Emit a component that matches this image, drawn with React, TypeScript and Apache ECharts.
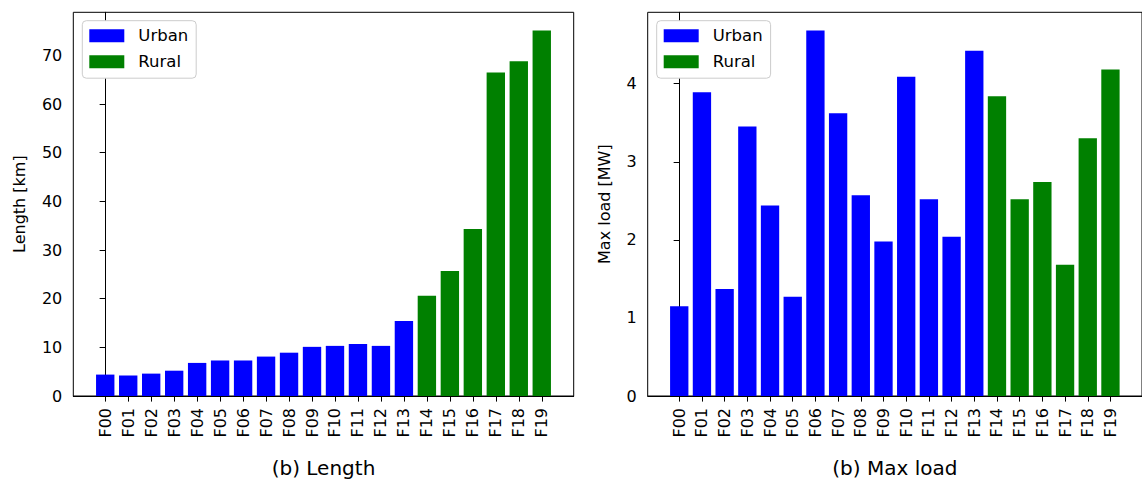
import { useEffect, useRef } from 'react';
import * as echarts from 'echarts';

const feeders = ['F00', 'F01', 'F02', 'F03', 'F04', 'F05', 'F06', 'F07', 'F08', 'F09',
  'F10', 'F11', 'F12', 'F13', 'F14', 'F15', 'F16', 'F17', 'F18', 'F19'];
const feederType = ['Urban', 'Urban', 'Urban', 'Urban', 'Urban', 'Urban', 'Urban', 'Urban', 'Urban', 'Urban',
  'Urban', 'Urban', 'Urban', 'Urban', 'Rural', 'Rural', 'Rural', 'Rural', 'Rural', 'Rural'];
const lengthKm = [4.4, 4.2, 4.6, 5.2, 6.8, 7.3, 7.3, 8.1, 8.9, 10.1,
  10.3, 10.7, 10.3, 15.4, 20.6, 25.7, 34.3, 66.5, 68.8, 75.1];
const maxLoadMW = [1.15, 3.89, 1.37, 3.45, 2.44, 1.27, 4.68, 3.62, 2.57, 1.98,
  4.09, 2.52, 2.04, 4.42, 3.84, 2.52, 2.74, 1.68, 3.30, 4.18];
const lengthTicks = [0, 10, 20, 30, 40, 50, 60, 70];
const loadTicks = [0, 1, 2, 3, 4];
const groups = ['Urban', 'Rural'];
const groupColors = ['#0000ff', '#008000'];

const FONT = 'DejaVu Sans';

export default function App() {
  const ref = useRef<HTMLDivElement>(null);
  useEffect(() => {
    document.body.style.margin = '0';
    document.body.style.overflow = 'hidden';
    const chart = echarts.init(ref.current!, null, { renderer: 'svg' });

    const n = feeders.length;
    const xMin = -0.4 - 0.05 * (n - 1 + 0.8);
    const xMax = n - 1 + 0.4 + 0.05 * (n - 1 + 0.8);

    const panels = [
      { grid: { left: 73.3, top: 12.3, width: 500.4, height: 384 }, values: lengthKm, ticks: lengthTicks,
        yName: 'Length [km]', xName: '(b) Length', yNameGap: 46, legendLeft: 82.3 },
      { grid: { left: 647.7, top: 12.3, width: 498.8, height: 384 }, values: maxLoadMW, ticks: loadTicks,
        yName: 'Max load [MW]', xName: '(b) Max load', yNameGap: 35, legendLeft: 656.7 },
    ];

    const grid: any[] = [];
    const xAxis: any[] = [];
    const yAxis: any[] = [];
    const series: any[] = [];
    const legend: any[] = [];
    const xIdx = feeders.map((_, i) => i);

    panels.forEach((p, pi) => {
      grid.push({ ...p.grid, show: true, borderColor: '#000', borderWidth: 1, backgroundColor: 'transparent' });
      xAxis.push({
        type: 'value', gridIndex: pi, min: xMin, max: xMax,
        axisLine: { show: true, onZero: false, lineStyle: { color: '#000', width: 1 } },
        axisTick: { show: true, length: 5.6, customValues: xIdx, lineStyle: { color: '#000', width: 1 } },
        axisLabel: {
          customValues: xIdx, rotate: 90, margin: 12, fontSize: 16, color: '#000', fontFamily: FONT,
          formatter: (v: number) => feeders[Math.round(v)] ?? '',
        },
        splitLine: { show: false },
        name: p.xName, nameLocation: 'middle', nameGap: 62,
        nameTextStyle: { fontSize: 20, color: '#000', fontFamily: FONT },
      });
      const vmax = Math.max(...p.values) * 1.05;
      yAxis.push({
        type: 'value', gridIndex: pi, min: 0, max: vmax,
        axisLine: { show: true, lineStyle: { color: '#000', width: 1 } },
        axisTick: { show: true, length: 5.6, customValues: p.ticks, lineStyle: { color: '#000', width: 1 } },
        axisLabel: { customValues: p.ticks, margin: 11, fontSize: 16, color: '#000', fontFamily: FONT },
        splitLine: { show: false },
        name: p.yName, nameLocation: 'middle', nameGap: p.yNameGap,
        nameTextStyle: { fontSize: 16, color: '#000', fontFamily: FONT },
      });
      const barWidth = 0.8 * p.grid.width / (xMax - xMin);
      groups.forEach((g, gi) => {
        series.push({
          type: 'bar', name: g, xAxisIndex: pi, yAxisIndex: pi,
          barWidth, barGap: '-100%',
          itemStyle: { color: groupColors[gi] },
          data: p.values.map((v, i) => [i, v]).filter((_, i) => feederType[i] === g),
        });
      });
      legend.push({
        left: p.legendLeft, top: 20.7, orient: 'vertical', data: groups,
        icon: 'rect', itemWidth: 35, itemHeight: 13, itemGap: 9,
        padding: [6.5, 8, 8, 7],
        borderColor: '#cccccc', borderWidth: 1, borderRadius: 4, backgroundColor: '#ffffff',
        selectedMode: false,
        textStyle: { fontSize: 16.5, color: '#000', fontFamily: FONT, padding: [0, 0, 0, 9] },
      });
    });

    chart.setOption({
      animation: false,
      backgroundColor: '#ffffff',
      textStyle: { fontFamily: FONT },
      grid, xAxis, yAxis, series, legend,
    });
    return () => chart.dispose();
  }, []);
  return <div ref={ref} style={{ position: 'fixed', left: 0, top: 0, width: 1142, height: 483 }} />;
}
